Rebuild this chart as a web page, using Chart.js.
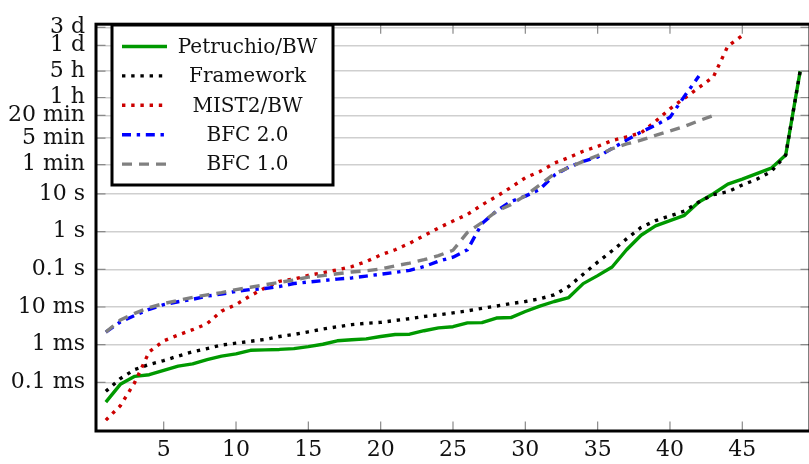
<!DOCTYPE html>
<html>
<head>
<meta charset="utf-8">
<script src="https://cdn.jsdelivr.net/npm/chart.js@4"></script>
<style>
  html, body { margin: 0; padding: 0; background: #fff; overflow: hidden; }
  #wrap { position: relative; width: 812px; height: 464px; }
</style>
</head>
<body>
<div id="wrap"><canvas id="myChart"></canvas></div>
<script>
// instance number on the x axis
const instances = [1,2,3,4,5,6,7,8,9,10,11,12,13,14,15,16,17,18,19,20,21,22,23,24,25,
  26,27,28,29,30,31,32,33,34,35,36,37,38,39,40,41,42,43,44,45,46,47,48,49];

// run times in seconds
const petruchio = [3.0e-5, 8.9e-5, 1.45e-4, 1.6e-4, 2.1e-4, 2.7e-4, 3.1e-4, 4.0e-4, 5.0e-4, 5.7e-4,
  7.1e-4, 7.3e-4, 7.5e-4, 7.9e-4, 8.9e-4, 1.03e-3, 1.27e-3, 1.35e-3, 1.43e-3, 1.65e-3,
  1.87e-3, 1.9e-3, 2.35e-3, 2.8e-3, 3.0e-3, 3.8e-3, 3.85e-3, 5.1e-3, 5.25e-3, 7.6e-3,
  0.0105, 0.014, 0.0178, 0.0417, 0.068, 0.115, 0.33, 0.80, 1.42, 1.95,
  2.7, 6.1, 10.1, 18.2, 24.5, 34.6, 48, 107, 18000];
const framework = [5.8e-5, 1.26e-4, 2.2e-4, 3.0e-4, 3.8e-4, 5.0e-4, 6.5e-4, 7.9e-4, 9.8e-4, 1.1e-3,
  1.23e-3, 1.38e-3, 1.65e-3, 1.87e-3, 2.2e-3, 2.6e-3, 3.0e-3, 3.4e-3, 3.7e-3, 3.9e-3,
  4.4e-3, 4.9e-3, 5.6e-3, 6.2e-3, 7.0e-3, 7.9e-3, 9.2e-3, 0.0106, 0.0123, 0.014,
  0.0165, 0.021, 0.035, 0.074, 0.155, 0.31, 0.64, 1.29, 1.95, 2.6,
  3.5, 6.1, 9.5, 11.4, 17.2, 24.5, 39, 107, 18000];
const mist2 = [1.0e-5, 2.4e-5, 1.0e-4, 6.5e-4, 1.27e-3, 1.8e-3, 2.5e-3, 3.6e-3, 7.8e-3, 0.0116,
  0.020, 0.032, 0.048, 0.055, 0.069, 0.081, 0.097, 0.118, 0.16, 0.24,
  0.33, 0.49, 0.78, 1.25, 1.9, 2.85, 5.1, 8.5, 14.8, 26.8,
  39, 65, 92, 135, 182, 260, 325, 415, 840, 1800,
  3450, 6600, 12600, 83000, 159000];
const bfc2 = [2.16e-3, 4.0e-3, 6.0e-3, 8.7e-3, 0.0116, 0.0138, 0.016, 0.0195, 0.022, 0.026,
  0.029, 0.031, 0.035, 0.042, 0.046, 0.050, 0.055, 0.059, 0.066, 0.074,
  0.083, 0.094, 0.118, 0.164, 0.21, 0.33, 1.63, 3.5, 6.3, 8.7,
  13.2, 31, 51, 73, 95, 160, 266, 437, 660, 1070,
  3890, 13300];
const bfc1 = [2.16e-3, 4.5e-3, 6.8e-3, 9.7e-3, 0.0123, 0.015, 0.018, 0.021, 0.024, 0.029,
  0.0335, 0.039, 0.045, 0.052, 0.062, 0.068, 0.076, 0.085, 0.091, 0.102,
  0.123, 0.146, 0.18, 0.23, 0.32, 0.95, 1.73, 3.45, 5.2, 9.0,
  17.2, 34, 50, 73, 104, 158, 211, 265, 357, 465,
  615, 870, 1200];

const seriesNames = ["Petruchio/BW", "Framework", "MIST2/BW", "BFC 2.0", "BFC 1.0"];
const xTickValues = [5, 10, 15, 20, 25, 30, 35, 40, 45];
const yTickValues = [1e-4, 1e-3, 1e-2, 0.1, 1, 10, 60, 300, 1200, 3600, 18000, 86400, 259200];
const yTickLabels = ["0.1 ms", "1 ms", "10 ms", "0.1 s", "1 s", "10 s", "1 min", "5 min",
  "20 min", "1 h", "5 h", "1 d", "3 d"];

const FONT = "'DejaVu Serif', serif";

function toPoints(vals) {
  return vals.map((v, i) => ({ x: instances[i], y: v }));
}

const styles = [
  { color: "rgb(0,153,0)", dash: [] },
  { color: "rgb(0,0,0)", dash: [3.4, 5.8] },
  { color: "rgb(204,0,0)", dash: [3.4, 5.8] },
  { color: "rgb(0,0,255)", dash: [9, 5.7, 3.4, 5.7] },
  { color: "rgb(128,128,128)", dash: [10, 7] }
];
const allSeries = [petruchio, framework, mist2, bfc2, bfc1];

const datasets = allSeries.map((s, i) => ({
  label: seriesNames[i],
  data: toPoints(s),
  borderColor: styles[i].color,
  backgroundColor: styles[i].color,
  borderDash: styles[i].dash,
  borderWidth: 3.4,
  borderCapStyle: "butt",
  borderJoinStyle: "round",
  pointRadius: 0,
  tension: 0,
  fill: false,
  order: 5 - i
}));

// frame, inner tick marks and boxed legend
const framePlugin = {
  id: "frame",
  afterDraw(chart) {
    const ctx = chart.ctx;
    const a = chart.chartArea;
    const xs = chart.scales.x, ys = chart.scales.y;
    ctx.save();
    ctx.strokeStyle = "#8a8a8a";
    ctx.lineWidth = 1.2;
    ctx.beginPath();
    xTickValues.forEach(v => {
      const px = xs.getPixelForValue(v);
      ctx.moveTo(px, a.bottom); ctx.lineTo(px, a.bottom - 9.5);
      ctx.moveTo(px, a.top); ctx.lineTo(px, a.top + 9.5);
    });
    yTickValues.forEach(v => {
      const py = ys.getPixelForValue(v);
      ctx.moveTo(a.right, py); ctx.lineTo(a.right - 9.5, py);
      ctx.moveTo(a.left, py); ctx.lineTo(a.left + 9.5, py);
    });
    ctx.stroke();

    ctx.strokeStyle = "#000";
    ctx.lineWidth = 3;
    ctx.strokeRect(a.left, a.top, a.right - a.left, a.bottom - a.top);

    // legend box
    const bx = 112, by = 25, bw = 221, bh = 160;
    ctx.fillStyle = "#fff";
    ctx.fillRect(bx, by, bw, bh);
    ctx.strokeRect(bx, by, bw, bh);
    ctx.font = "20px " + FONT;
    ctx.textAlign = "center";
    ctx.textBaseline = "middle";
    seriesNames.forEach((name, i) => {
      const y = 46.5 + i * 29.4;
      ctx.beginPath();
      ctx.strokeStyle = styles[i].color;
      ctx.lineWidth = 3.4;
      ctx.lineCap = "butt";
      ctx.setLineDash(styles[i].dash);
      ctx.moveTo(122, y);
      ctx.lineTo(167, y);
      ctx.stroke();
      ctx.setLineDash([]);
      ctx.fillStyle = "#111";
      ctx.fillText(name, 247.5, y + 1);
    });
    ctx.restore();
  }
};

new Chart(document.getElementById("myChart"), {
  type: "line",
  data: { datasets: datasets },
  options: {
    responsive: true,
    maintainAspectRatio: false,
    animation: false,
    layout: { padding: { top: 9, right: 2, left: 0, bottom: 0 } },
    plugins: { legend: { display: false }, tooltip: { enabled: false } },
    scales: {
      x: {
        type: "linear",
        min: 0.32,
        max: 49.68,
        afterBuildTicks: (scale) => { scale.ticks = xTickValues.map(v => ({ value: v })); },
        afterFit: (scale) => { scale.height = 33; },
        grid: { display: false, drawTicks: false },
        border: { display: false },
        ticks: { autoSkip: false, maxRotation: 0, padding: 6, color: "#111",
          font: { family: FONT, size: 22 } }
      },
      y: {
        type: "logarithmic",
        min: 5.15e-6,
        max: 3.16e5,
        afterBuildTicks: (scale) => { scale.ticks = yTickValues.map(v => ({ value: v })); },
        afterFit: (scale) => { scale.width = 96; },
        grid: { color: "#cfcfcf", lineWidth: 1.5, drawTicks: false },
        border: { display: false },
        ticks: {
          autoSkip: false, padding: 11, color: "#111",
          font: { family: FONT, size: 22 },
          callback: (value, index) => yTickLabels[index]
        }
      }
    }
  },
  plugins: [framePlugin]
});
</script>
</body>
</html>
